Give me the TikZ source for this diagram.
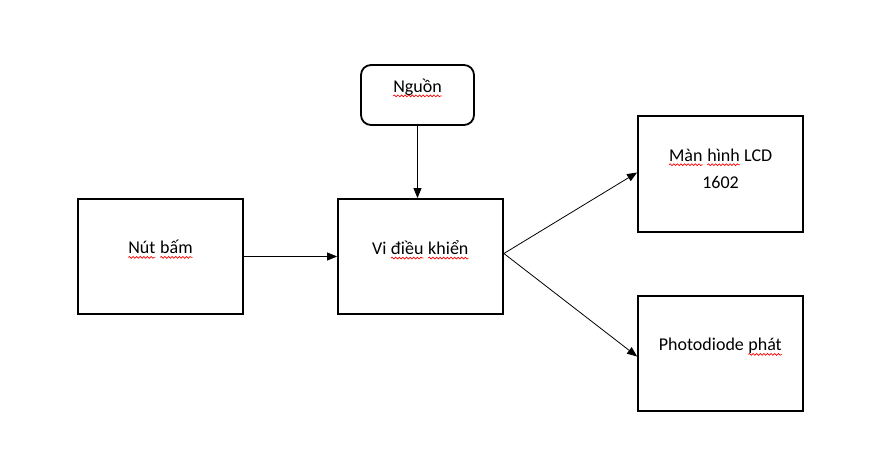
\documentclass[tikz,border=0pt]{standalone}
\usepackage{fontspec}
\setmainfont{Carlito}
\usetikzlibrary{arrows.meta,decorations.pathmorphing}
\newcommand\sqword[1]{\tikz[baseline=(w.base)]{\node[inner sep=0pt,outer sep=0pt,draw=none,minimum size=0pt](w){#1};\draw[red,line width=0.7pt,decorate,decoration={snake,amplitude=0.9pt,segment length=3.6pt}]([yshift=-3.5pt]w.base west)--([yshift=-3.5pt]w.base east);}}
\begin{document}
\begin{tikzpicture}[x=1pt,y=-1pt,
  blk/.style={draw,line width=1.8pt,minimum width=165pt,minimum height=115pt,inner sep=0pt},
  txt/.style={font=\fontsize{18}{27}\selectfont,align=center,inner sep=0pt},
  conn/.style={line width=0.8pt,-{Triangle[length=10pt,width=8pt]}}]
\useasboundingbox (0,0) rectangle (871,460);
\node[blk,minimum width=113pt,minimum height=60pt,rounded corners=10pt] (nguon) at (417.5,95) {};
\node[blk] (vi) at (420.5,256.5) {};
\node[blk] (nut) at (160.5,256.5) {};
\node[blk,minimum height=116pt] (lcd) at (720.5,174) {};
\node[blk] (pd) at (720.5,353.5) {};
\node[txt] (tnguon) at ([yshift=7pt]nguon.center) {\sqword{Nguồn}};
\node[txt] (tvi) at ([yshift=6.5pt]vi.center) {Vi \sqword{điều} \sqword{khiển}};
\node[txt] (tnut) at ([yshift=7pt]nut.center) {\sqword{Nút} \sqword{bấm}};
\node[txt] (tlcd) at ([yshift=5.5pt]lcd.center) {\sqword{Màn} \sqword{hình} LCD\\1602};
\node[txt] (tpd) at ([yshift=6.5pt]pd.center) {Photodiode \sqword{phát}};
\draw[conn] (nguon.south) -- (nguon.south |- vi.north);
\draw[conn] (nut.east) -- (vi.west);
\coordinate (vo) at ([yshift=3pt]vi.east);
\draw[conn] (vo) -- ([yshift=1.5pt]lcd.west);
\draw[conn] (vo) -- ([yshift=-3pt]pd.west);
\end{tikzpicture}
\end{document}
